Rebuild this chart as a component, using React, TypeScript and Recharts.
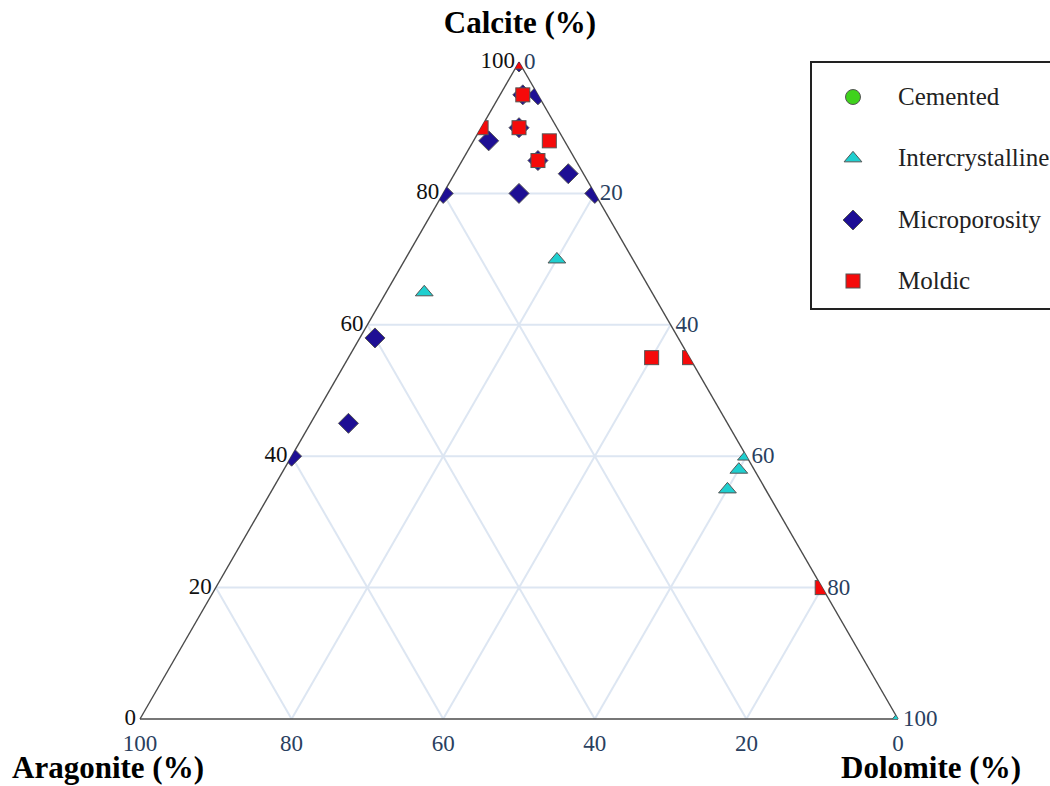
import { ScatterChart, Scatter, XAxis, YAxis, ReferenceLine, ReferenceDot } from "recharts";

// Ternary compositions in percent: calcite / aragonite / dolomite
const cementedCalcite: number[] = [];
const cementedAragonite: number[] = [];
const cementedDolomite: number[] = [];

const interCalcite = [70, 65, 40, 38, 35, 0];
const interAragonite = [10, 30, 0, 2, 5, 0];
const interDolomite = [20, 5, 60, 60, 60, 100];

const microCalcite = [100, 95, 95, 90, 85, 88, 83, 80, 80, 80, 58, 45, 40];
const microAragonite = [0, 2, 0, 5, 5, 10, 2, 10, 0, 20, 40, 50, 60];
const microDolomite = [0, 3, 5, 5, 10, 2, 15, 10, 20, 0, 2, 5, 0];

const moldicCalcite = [100, 95, 90, 85, 88, 90, 55, 55, 20];
const moldicAragonite = [0, 2, 5, 5, 2, 10, 5, 0, 0];
const moldicDolomite = [0, 3, 5, 10, 10, 0, 40, 45, 80];

const gridSteps = [20, 40, 60, 80];
const tickSteps = [0, 20, 40, 60, 80, 100];

const W = 1050;
const H = 786;
const M = { top: 62, right: 152, bottom: 67, left: 140 };
const PLOT_W = W - M.left - M.right;
const PLOT_H = H - M.top - M.bottom;

const FONT = '"Liberation Serif", "Times New Roman", serif';
const AXIS_BLUE = "#2a3f5f";

// barycentric -> cartesian in unit space (x across the base, y = calcite share)
const toXY = (a: number, b: number, c: number) => {
  const s = a + b + c;
  return { x: (c + a / 2) / s, y: a / s };
};

const toSeries = (a: number[], b: number[], c: number[]) =>
  a.map((v, i) => toXY(v, b[i], c[i]));

type MarkerKind = "circle" | "triangle" | "diamond" | "square";

const series = [
  { name: "Cemented", kind: "circle" as MarkerKind, fill: "#3fd21c", data: toSeries(cementedCalcite, cementedAragonite, cementedDolomite) },
  { name: "Intercrystalline", kind: "triangle" as MarkerKind, fill: "#1fcfcf", data: toSeries(interCalcite, interAragonite, interDolomite) },
  { name: "Microporosity", kind: "diamond" as MarkerKind, fill: "#1e0f94", data: toSeries(microCalcite, microAragonite, microDolomite) },
  { name: "Moldic", kind: "square" as MarkerKind, fill: "#f50a0a", data: toSeries(moldicCalcite, moldicAragonite, moldicDolomite) },
];

function marker(kind: MarkerKind, cx: number, cy: number, fill: string) {
  const stroke = "#555";
  if (kind === "circle") return <circle cx={cx} cy={cy} r={7.5} fill={fill} stroke={stroke} strokeWidth={1} />;
  if (kind === "square") return <rect x={cx - 7} y={cy - 7} width={14} height={14} fill={fill} stroke={stroke} strokeWidth={1} />;
  if (kind === "diamond") {
    const r = 10;
    return <path d={`M${cx - r},${cy}L${cx},${cy - r}L${cx + r},${cy}L${cx},${cy + r}Z`} fill={fill} stroke={stroke} strokeWidth={1} />;
  }
  const s = 7.7;
  const rt = (s * 2) / Math.sqrt(3);
  return (
    <path
      d={`M${cx - rt},${cy + s / 2}H${cx + rt}L${cx},${cy - (s * Math.sqrt(3)) / 2}Z`}
      fill={fill}
      stroke={stroke}
      strokeWidth={1}
    />
  );
}

const clipShape = (kind: MarkerKind, fill: string) => (props: any) => {
  const { cx, cy } = props;
  if (cx == null || cy == null) return <g />;
  return <g clipPath="url(#ternary-clip)">{marker(kind, cx, cy, fill)}</g>;
};

// pixel position of a unit-space point, used only for the clip outline
const px = (p: { x: number; y: number }) => `${M.left + p.x * PLOT_W},${M.top + (1 - p.y) * PLOT_H}`;
const clipPoints = [toXY(100, 0, 0), toXY(0, 100, 0), toXY(0, 0, 100)].map(px).join(" ");

const gridSegments = gridSteps.flatMap((k) => [
  [toXY(k, 100 - k, 0), toXY(k, 0, 100 - k)],
  [toXY(0, k, 100 - k), toXY(100 - k, k, 0)],
  [toXY(0, 100 - k, k), toXY(100 - k, 0, k)],
]);

const edgeSegments = [
  [toXY(100, 0, 0), toXY(0, 100, 0)],
  [toXY(0, 100, 0), toXY(0, 0, 100)],
  [toXY(0, 0, 100), toXY(100, 0, 0)],
];

const tickText = (label: string, dx: number, dy: number, anchor: "start" | "middle" | "end", color: string) =>
  (props: any) => (
    <text
      x={props.cx + dx}
      y={props.cy + dy}
      dy="0.35em"
      textAnchor={anchor}
      fill={color}
      fontSize={23}
      fontFamily={FONT}
    >
      {label}
    </text>
  );

export default function App() {
  return (
    <div style={{ position: "absolute", left: 0, top: 0, width: W, height: H, background: "#fff", fontFamily: FONT }}>
      <svg width={0} height={0} style={{ position: "absolute" }}>
        <defs>
          <clipPath id="ternary-clip">
            <polygon points={clipPoints} />
          </clipPath>
        </defs>
      </svg>

      <ScatterChart width={W} height={H} margin={M}>
        <XAxis type="number" dataKey="x" domain={[0, 1]} hide />
        <YAxis type="number" dataKey="y" domain={[0, 1]} hide />

        {gridSegments.map((seg, i) => (
          <ReferenceLine key={`g${i}`} segment={seg} stroke="#dde6f2" strokeWidth={2} ifOverflow="visible" />
        ))}

        {series.map((s) => (
          <Scatter
            key={s.name}
            name={s.name}
            data={s.data}
            shape={clipShape(s.kind, s.fill)}
            isAnimationActive={false}
          />
        ))}

        {edgeSegments.map((seg, i) => (
          <ReferenceLine key={`e${i}`} segment={seg} stroke="#4a4a4a" strokeWidth={1.4} ifOverflow="visible" />
        ))}

        {tickSteps.map((k) => {
          const p = toXY(k, 100 - k, 0);
          return (
            <ReferenceDot key={`ta${k}`} x={p.x} y={p.y} r={0} ifOverflow="visible"
              shape={tickText(String(k), -4, -2, "end", "#111")} />
          );
        })}
        {tickSteps.map((k) => {
          const p = toXY(100 - k, 0, k);
          return (
            <ReferenceDot key={`tc${k}`} x={p.x} y={p.y} r={0} ifOverflow="visible"
              shape={tickText(String(k), 5, -1, "start", AXIS_BLUE)} />
          );
        })}
        {tickSteps.map((k) => {
          const p = toXY(0, k, 100 - k);
          return (
            <ReferenceDot key={`tb${k}`} x={p.x} y={p.y} r={0} ifOverflow="visible"
              shape={tickText(String(k), 0, 24, "middle", AXIS_BLUE)} />
          );
        })}
      </ScatterChart>

      {[
        { text: "Calcite (%)", x: 520, y: 22 },
        { text: "Aragonite (%)", x: 108, y: 767 },
        { text: "Dolomite (%)", x: 931, y: 767 },
      ].map((t) => (
        <div
          key={t.text}
          style={{
            position: "absolute",
            left: t.x,
            top: t.y,
            transform: "translate(-50%, -50%)",
            fontSize: 31,
            fontWeight: "bold",
            lineHeight: 1,
            whiteSpace: "nowrap",
            color: "#000",
          }}
        >
          {t.text}
        </div>
      ))}

      <div
        style={{
          position: "absolute",
          left: 810,
          top: 61,
          width: 260,
          height: 245,
          border: "2px solid #222",
          boxSizing: "content-box",
        }}
      >
        {series.map((s, i) => (
          <div
            key={s.name}
            style={{ position: "absolute", left: 0, top: 34 + i * 61.3 - 15, height: 30, display: "flex", alignItems: "center" }}
          >
            <svg width={86} height={30}>
              {marker(s.kind, 41, 15, s.fill)}
            </svg>
            <span style={{ fontSize: 25, color: "#222", whiteSpace: "nowrap" }}>{s.name}</span>
          </div>
        ))}
      </div>
    </div>
  );
}
